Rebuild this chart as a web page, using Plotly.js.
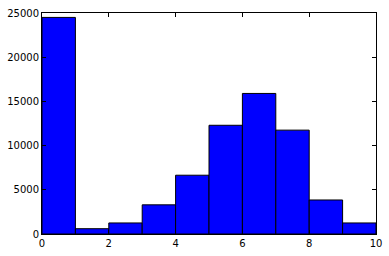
<!DOCTYPE html>
<html>
<head>
<meta charset="utf-8">
<script src="https://cdn.plot.ly/plotly-3.0.1.min.js"></script>
<style>html,body{margin:0;padding:0;background:#fff;}#chart{width:389px;height:256px;}</style>
</head>
<body>
<div id="chart"></div>
<script>
const binEdges = [0, 1, 2, 3, 4, 5, 6, 7, 8, 9, 10];
const counts = [24500, 600, 1250, 3300, 6650, 12300, 15900, 11750, 3850, 1250];
const xTicks = [0, 2, 4, 6, 8, 10];
const yTicks = [0, 5000, 10000, 15000, 20000, 25000];

const centers = counts.map((_, i) => (binEdges[i] + binEdges[i + 1]) / 2);
const widths = counts.map((_, i) => binEdges[i + 1] - binEdges[i]);

const trace = {
  type: 'bar',
  x: centers,
  y: counts,
  width: widths,
  marker: {color: '#0000ff', line: {color: '#000000', width: 1}},
  hoverinfo: 'none'
};

const axisCommon = {
  showline: true, linecolor: '#000', linewidth: 1, mirror: 'ticks',
  ticks: 'inside', ticklen: 4, tickwidth: 1, tickcolor: '#000',
  showgrid: false, zeroline: false,
  tickfont: {family: 'DejaVu Sans', size: 10, color: '#000'}
};

const layout = {
  width: 389, height: 256,
  margin: {l: 42, r: 13, t: 13, b: 22},
  paper_bgcolor: '#fff', plot_bgcolor: '#fff',
  showlegend: false,
  bargap: 0,
  xaxis: Object.assign({}, axisCommon, {range: [0, 10], tickvals: xTicks, ticktext: xTicks.map(String)}),
  yaxis: Object.assign({}, axisCommon, {range: [0, 25000], tickvals: yTicks, ticktext: yTicks.map(String)})
};

Plotly.newPlot('chart', [trace], layout, {staticPlot: true, displayModeBar: false});
</script>
</body>
</html>
